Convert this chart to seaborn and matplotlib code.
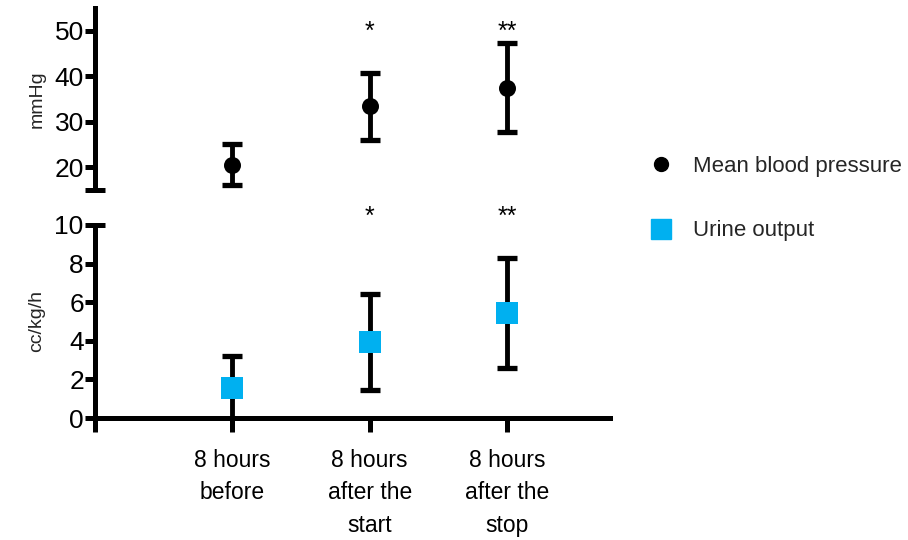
import matplotlib
matplotlib.use("Agg")
import matplotlib.pyplot as plt
from matplotlib.lines import Line2D
from matplotlib.ticker import FixedFormatter
import seaborn as sns
import pandas as pd

sns.set_theme(style="white")
plt.rcParams["font.family"] = ["Liberation Sans", "DejaVu Sans"]

# Groups
categories = ["8 hours\nbefore", "8 hours\nafter the\nstart", "8 hours\nafter the\nstop"]
positions = [1, 2, 3]

# Mean blood pressure (mmHg): mean and lower/upper error
mbp_mean = [20.5, 33.5, 37.5]
mbp_low = [16.0, 26.0, 27.7]
mbp_high = [25.2, 40.8, 47.4]

# Urine output (cc/kg/h): mean and symmetric SD
urine_mean = [1.55, 3.95, 5.45]
urine_sd = [1.65, 2.5, 2.85]

# Significance marks
mbp_sig = ["", "*", "**"]
urine_sig = ["", "*", "**"]

BLUE = "#00B0F0"
LW = 3.6

fig = plt.figure(figsize=(9.08, 5.40), dpi=100)
ax_top = fig.add_axes([95 / 908, 1 - 190 / 540, (610 - 95) / 908, (190 - 8) / 540])
ax_bot = fig.add_axes([95 / 908, 1 - 418 / 540, (610 - 95) / 908, (418 - 225) / 540])

df_mbp = pd.DataFrame({"x": positions, "y": mbp_mean})
df_uo = pd.DataFrame({"x": positions, "y": urine_mean})

# --- top panel: blood pressure ---
yerr_mbp = [[m - lo for m, lo in zip(mbp_mean, mbp_low)],
            [hi - m for m, hi in zip(mbp_mean, mbp_high)]]
ax_top.errorbar(positions, mbp_mean, yerr=yerr_mbp, fmt="none", ecolor="black",
                elinewidth=3.5, capsize=7, capthick=3.8, zorder=2)
sns.scatterplot(data=df_mbp, x="x", y="y", ax=ax_top, marker="o", s=150,
                color="black", edgecolor="black", linewidth=0, zorder=3, legend=False)
ax_top.set_xlim(0, 3.75)
ax_top.set_ylim(15, 55)
ax_top.set_yticks([20, 30, 40, 50])
ax_top.set_yticks([15], minor=True)
ax_top.tick_params(axis="y", which="major", left=True, direction="out", length=7,
                   width=LW, labelsize=19, pad=1, colors="black")
ax_top.tick_params(axis="y", which="minor", left=True, direction="inout", length=15,
                   width=LW, color="black")
ax_top.tick_params(axis="x", which="both", bottom=False, labelbottom=False)
for s in ["top", "right", "bottom"]:
    ax_top.spines[s].set_visible(False)
ax_top.spines["left"].set_linewidth(LW)
ax_top.spines["left"].set_color("black")
ax_top.set_ylabel("mmHg", fontsize=14, labelpad=6)
ax_top.set_xlabel("")
for x, t in zip(positions, mbp_sig):
    if t:
        ax_top.text(x, 49.8, t, ha="center", va="center", fontsize=18, color="black")

# --- bottom panel: urine output ---
ax_bot.errorbar(positions, urine_mean, yerr=urine_sd, fmt="none", ecolor="black",
                elinewidth=3.5, capsize=7, capthick=3.8, zorder=2)
sns.scatterplot(data=df_uo, x="x", y="y", ax=ax_bot, marker="s", s=250,
                color=BLUE, edgecolor=BLUE, linewidth=0, zorder=3, legend=False)
ax_bot.set_xlim(0, 3.75)
ax_bot.set_ylim(0, 10)
ax_bot.set_yticks([0, 2, 4, 6, 8])
ax_bot.set_yticks([10], minor=True)
ax_bot.set_yticklabels(["0", "2", "4", "6", "8"])
ax_bot.tick_params(axis="y", which="major", left=True, direction="out", length=7,
                   width=LW, labelsize=19, pad=1, colors="black")
ax_bot.tick_params(axis="y", which="minor", left=True, direction="inout", length=15,
                   width=LW, labelleft=True, labelsize=19, pad=1, colors="black")
ax_bot.yaxis.set_minor_formatter(FixedFormatter(["10"]))
ax_bot.set_xticks([0] + positions)
ax_bot.set_xticklabels([""] + categories, linespacing=1.55)
ax_bot.tick_params(axis="x", bottom=True, direction="out", length=10, width=LW,
                   labelsize=16.5, pad=12, colors="black")
for s in ["top", "right"]:
    ax_bot.spines[s].set_visible(False)
for s in ["left", "bottom"]:
    ax_bot.spines[s].set_linewidth(LW)
    ax_bot.spines[s].set_color("black")
ax_bot.set_ylabel("cc/kg/h", fontsize=14, labelpad=6)
ax_bot.set_xlabel("")
for x, t in zip(positions, urine_sig):
    if t:
        ax_bot.text(x, 10.4, t, ha="center", va="center", fontsize=18,
                    color="black", clip_on=False)

# Legend
handles = [
    Line2D([], [], marker="o", color="black", linestyle="none", markersize=10),
    Line2D([], [], marker="s", color=BLUE, linestyle="none", markersize=14),
]
fig.legend(handles, ["Mean blood pressure", "Urine output"], loc="upper left",
           bbox_to_anchor=(630 / 908, 1 - 136 / 540), frameon=False, fontsize=16,
           handletextpad=0.95, labelspacing=1.95, handlelength=1.0)

fig.savefig("out.png", dpi=100)
